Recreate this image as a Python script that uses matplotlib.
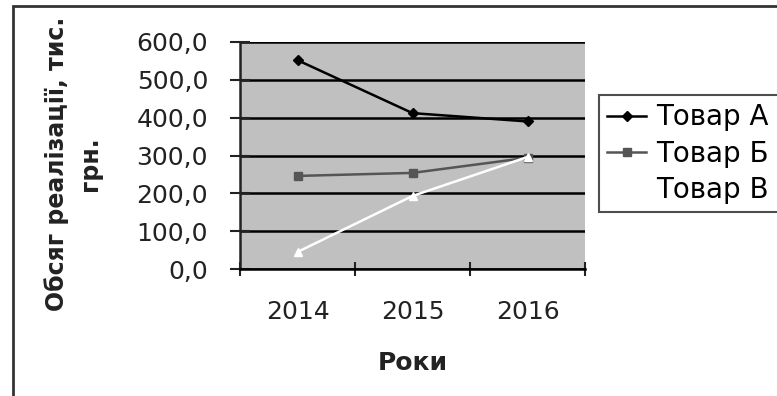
import numpy as np
import matplotlib
matplotlib.use("Agg")
import matplotlib.pyplot as plt
from matplotlib.ticker import FuncFormatter
from matplotlib.patches import Rectangle

plt.rcParams['font.family'] = ['DejaVu Sans']

years = ['2014', '2015', '2016']
tovar_a = [552.0, 412.0, 390.0]
tovar_b = [246.0, 254.0, 294.0]
tovar_v = [45.0, 193.0, 296.0]
series_names = ['Товар А', 'Товар Б', 'Товар В']

fig = plt.figure(figsize=(7.77, 3.96), dpi=100)
ax = fig.add_axes([240 / 777, 127 / 396, 345 / 777, 227 / 396])
ax.set_facecolor('#c0c0c0')

x = np.arange(len(years))
ax.plot(x, tovar_a, color='black', lw=1.8, marker='D', ms=5, label=series_names[0], zorder=3)
ax.plot(x, tovar_b, color='#555555', lw=1.8, marker='s', ms=6, label=series_names[1], zorder=3)
ax.plot(x, tovar_v, color='white', lw=1.8, marker='^', ms=6, label=series_names[2], zorder=3)

ax.set_ylim(0, 600)
ax.set_xlim(-0.5, 2.5)
ax.set_yticks(np.arange(0, 601, 100))
ax.yaxis.set_major_formatter(FuncFormatter(lambda v, p: f"{v:.1f}".replace('.', ',')))
ax.grid(axis='y', color='black', lw=1.8, zorder=1)
ax.set_axisbelow(True)

# category boundaries carry the tick marks, labels sit in the middle
ax.set_xticks([-0.5, 0.5, 1.5, 2.5])
ax.set_xticklabels([])
ax.set_xticks(x, minor=True)
ax.set_xticklabels(years, minor=True)
ax.tick_params(axis='x', which='major', direction='inout', length=10, width=1.5, color='#222222')
ax.tick_params(axis='x', which='minor', length=0, pad=22, labelsize=18, labelcolor='#222222')
ax.tick_params(axis='y', direction='inout', length=14, width=1.5, color='#222222',
               pad=16, labelsize=18, labelcolor='#222222')

for s in ('top', 'right'):
    ax.spines[s].set_visible(False)
ax.spines['left'].set_color('#222222')
ax.spines['left'].set_linewidth(1.8)
ax.spines['bottom'].set_color('black')
ax.spines['bottom'].set_linewidth(1.8)

ax.set_xlabel('Роки', fontsize=18, fontweight='bold', color='#222222', labelpad=20)
fig.text(73 / 777, 1 - 164 / 396, 'Обсяг реалізації, тис.\nгрн.', rotation=90,
         ha='center', va='center', fontsize=17, fontweight='bold', color='#222222',
         linespacing=1.5)

# legend box runs past the right edge of the chart
leg = ax.legend(loc='upper left', bbox_to_anchor=(599 / 777, 1 - 95 / 396, 0.3, 0),
                bbox_transform=fig.transFigure, mode='expand', fontsize=20, frameon=True,
                fancybox=False, edgecolor='#222222', handlelength=1.4, handletextpad=0.35,
                labelspacing=0.3, borderpad=0.3, borderaxespad=0)
leg.get_frame().set_linewidth(1.5)

# outer chart border
fig.patches.append(Rectangle((13 / 777, -0.05), 1.1, 1 - 6 / 396 + 0.05, transform=fig.transFigure,
                             fill=False, edgecolor='#333333', lw=2))

fig.savefig('out.png', dpi=100)
